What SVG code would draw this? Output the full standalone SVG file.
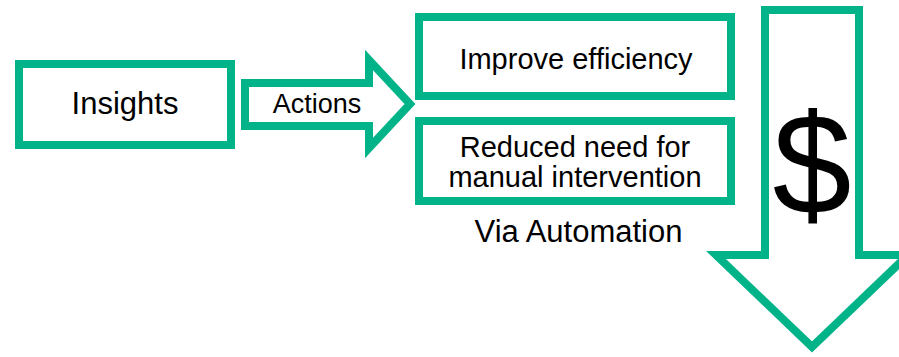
<svg xmlns="http://www.w3.org/2000/svg" width="899" height="357" viewBox="0 0 899 357">
<style>
.box{fill:#fff;stroke:#00B388;stroke-width:8}
.t{font-family:"Liberation Sans",Arial,sans-serif;fill:#000;text-anchor:middle}
</style>
<rect width="899" height="357" fill="#fff"/>
<g id="insights">
<rect class="box" x="19" y="64" width="212" height="81"/>
<text class="t" x="125" y="114" font-size="31">Insights</text>
</g>
<g id="connectors">
<g id="actions">
<polygon class="box" points="245,83 369,83 369,60 410,104 369,148 369,126 245,126"/>
<text class="t" x="317" y="113" font-size="27">Actions</text>
</g>
</g>
<g id="improve">
<rect class="box" x="419" y="17" width="312" height="79"/>
<text class="t" x="576" y="69" font-size="29">Improve efficiency</text>
</g>
<g id="reduced">
<rect class="box" x="419" y="121" width="312" height="80"/>
<text class="t" x="575" y="157" font-size="29">Reduced need for</text>
<text class="t" x="575" y="187" font-size="29">manual intervention</text>
</g>
<g id="via">
<text class="t" x="578.5" y="242" font-size="31">Via Automation</text>
</g>
<g id="cost">
<polygon class="box" points="765,10 859,10 859,255 908,255 812,347 716,255 765,255"/>
<text class="t" x="812" y="214" font-size="142">$</text>
</g>
</svg>
